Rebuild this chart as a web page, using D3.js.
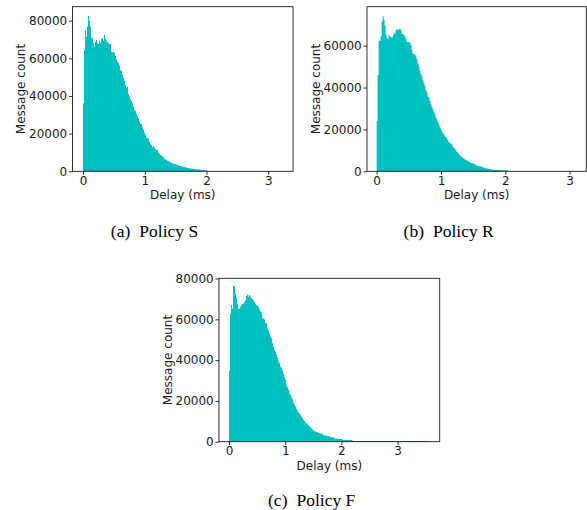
<!DOCTYPE html>
<html>
<head>
<meta charset="utf-8">
<script src="https://cdn.jsdelivr.net/npm/d3@7"></script>
<style>
body { margin: 0; background: #fff; }
</style>
</head>
<body>
<div id="chart"></div>
<script>
// Histogram bin counts, first bin starts at 0 ms
var countsS = [
	36100, 64400, 75000, 71500, 76800, 82500, 80000, 76800, 71200, 70700,
	68000, 66200, 68800, 69700, 68000, 67600, 69300, 68000, 70100, 70700,
	69500, 72400, 70700, 69500, 68500, 68000, 67600, 67600, 63500, 63200,
	63400, 62800, 61200, 59500, 58300, 57400, 56000, 53800, 53400, 51200,
	49500, 48100, 45800, 44400, 44900, 41000, 39700, 38200, 37300, 36100,
	34300, 32600, 32000, 30400, 29300, 28200, 26300, 25200, 25000, 23200,
	22000, 20500, 19300, 18100, 17500, 17500, 15700, 14500, 14000, 12700,
	13500, 12700, 11700, 11300, 11300,
	9900, 9200, 8700, 8100, 7800, 7400, 6700, 6400, 6000, 5600,
	5300, 5100, 4800, 4600, 4200, 4200, 3900, 3900, 3500, 3400,
	3200, 2800, 2800, 2700, 2500, 2500, 2400, 2100, 2000, 1800,
	1800, 1600, 1500, 1500, 1400, 1300, 1200, 1200, 1000, 1000,
	950, 900, 850, 800, 750, 700, 650, 600, 550
];
var countsR = [
	23950, 46000, 62300, 62300, 64400, 71500, 74000, 72400, 69500, 65100,
	63700, 63000, 65100, 64400, 64100, 63700, 64700, 66300, 65600, 67300,
	67900, 67500, 67900, 68200, 67300, 65700, 65600, 65100, 64400, 63000,
	61800, 61800, 61500, 61500, 60200, 58000, 56100, 56000, 55600, 54800,
	53500, 51600, 50000, 47900, 46500, 45200, 43600, 42000, 40700, 38800,
	37600, 35600, 35300, 33700, 32100, 30800, 29700, 28400, 27300, 25700,
	24700, 23600, 22500, 21200, 20400, 19300, 18300, 17700, 16700, 16400,
	15600, 14800, 14000, 13500, 13200,
	12800, 11700, 11300, 10800, 10000, 9300, 8800, 8100, 7700, 7200,
	6900, 6400, 6100, 5600, 5300, 5300, 4950, 4600, 4500, 4000,
	4000, 3700, 3700, 3300, 3300, 2800, 2500, 2400, 2400, 2400,
	2100, 1800, 1800, 1600, 1400, 1300, 1300, 1100, 1100, 1000,
	1000, 800, 800, 800, 650, 650, 650, 650, 650, 650,
	500, 500, 500, 500, 500, 480, 450
];
var countsF = [
	34800, 62900, 67000, 65300, 76300, 76300, 72700, 70300, 67500, 65300,
	65000, 66100, 67000, 67500, 67800, 68600, 69400, 71400, 72200, 71100,
	71900, 70800, 70300, 69800, 69200, 68200, 67500, 67000, 66500, 66100,
	64800, 63700, 63200, 60700, 60400, 59900, 58300, 57900, 55500, 54400,
	53000, 51700, 50600, 48200, 46600, 44900, 44100, 42500, 41300, 39200,
	38400, 36800, 36000, 34600, 33200, 31500, 30200, 27600, 26600, 25300,
	23600, 22800, 21700, 20700, 19100, 17900, 17100, 16000, 15100, 14100,
	13800, 13000, 12200, 11400, 10500, 10200, 9200, 8900, 8400, 8100,
	7300, 6900, 6400, 5900, 5600, 5300, 4800, 4800, 4500, 4300,
	4000, 4000, 4000, 3600, 3100, 3100, 3100, 2800, 2800, 2800,
	2300, 2300, 2300, 2000, 2000, 1600, 1600, 1600, 1600, 1300,
	1300, 1300, 1300, 1000, 800, 800, 800, 800, 800, 800,
	800, 800, 800
];
// bin width (ms) of each histogram
var binS = 0.0162, binR = 0.0155, binF = 0.01785;
// sparse tail after the listed bins: last delay (ms) and count per bin
var tailEndS = 3.24, tailCountS = 60;
var tailEndR = 3.10, tailCountR = 60;
var tailEndF = 3.57, tailCountF = 350;

var xTicks = [0, 1, 2, 3];
var yTicksS = [0, 20000, 40000, 60000, 80000];
var yTicksR = [0, 20000, 40000, 60000];
var yTicksF = [0, 20000, 40000, 60000, 80000];

var xLabel = 'Delay (ms)';
var yLabel = 'Message count';
var captionTags = ['(a)', '(b)', '(c)'];
var captionNames = ['Policy S', 'Policy R', 'Policy F'];

var width = 587, height = 510;
var barColor = '#00bfbf';
var inkColor = '#1a1a1a';

var svg = d3.select('#chart')
	.append('svg')
	.attr('width', width)
	.attr('height', height);

var panels = [
	{counts: countsS, bin: binS, tailEnd: tailEndS, tailCount: tailCountS, yTicks: yTicksS,
	 left: 72.5, right: 293, top: 6.7, bottom: 171.3, xDomain: [-0.17, 3.40], yMax: 87400,
	 capX: 154.5, capY: 236.5},
	{counts: countsR, bin: binR, tailEnd: tailEndR, tailCount: tailCountR, yTicks: yTicksR,
	 left: 367, right: 586.3, top: 6.7, bottom: 171.3, xDomain: [-0.15, 3.26], yMax: 78600,
	 capX: 448.7, capY: 236.5},
	{counts: countsF, bin: binF, tailEnd: tailEndF, tailCount: tailCountF, yTicks: yTicksF,
	 left: 219, right: 439.7, top: 278.3, bottom: 441.7, xDomain: [-0.178, 3.749], yMax: 80100,
	 capX: 311.7, capY: 505.5}
];

panels.forEach(function(p, i){
	draw_panel(p, i);
});

function draw_panel(p, i){
	var g = svg.append('g');

	var x = d3.scaleLinear().domain(p.xDomain).range([p.left, p.right]);
	var y = d3.scaleLinear().domain([0, p.yMax]).range([p.bottom, p.top]);

	// step outline of the histogram
	var pts = p.counts.map(function(c, k){ return [k * p.bin, c]; });
	pts.push([p.counts.length * p.bin, p.tailCount]);
	pts.push([p.tailEnd, 0]);

	var area = d3.area()
		.curve(d3.curveStepAfter)
		.x(function(d){ return x(d[0]); })
		.y0(y(0))
		.y1(function(d){ return y(d[1]); });

	g.append('path')
		.datum(pts)
		.attr('d', area)
		.attr('fill', barColor);

	// axes
	var xAxis = g.append('g')
		.attr('transform', 'translate(0,' + p.bottom + ')')
		.call(d3.axisBottom(x).tickValues(xTicks).tickFormat(d3.format('d'))
			.tickSize(3.5).tickPadding(1.5));
	var yAxis = g.append('g')
		.attr('transform', 'translate(' + p.left + ',0)')
		.call(d3.axisLeft(y).tickValues(p.yTicks).tickFormat(d3.format('d'))
			.tickSize(3.5).tickPadding(1.8));

	[xAxis, yAxis].forEach(function(a){
		a.select('.domain').remove();
		a.selectAll('line').attr('stroke', inkColor).attr('stroke-width', 0.9);
		a.selectAll('text')
			.attr('fill', inkColor)
			.style('font-family', 'DejaVu Sans')
			.style('font-size', '12px');
	});

	// frame
	g.append('rect')
		.attr('x', p.left)
		.attr('y', p.top)
		.attr('width', p.right - p.left)
		.attr('height', p.bottom - p.top)
		.attr('fill', 'none')
		.attr('stroke', inkColor)
		.attr('stroke-width', 0.9);

	g.append('text')
		.attr('x', (p.left + p.right) / 2)
		.attr('y', p.bottom + 28)
		.attr('text-anchor', 'middle')
		.attr('fill', inkColor)
		.style('font-family', 'DejaVu Sans')
		.style('font-size', '12px')
		.text(xLabel);

	g.append('text')
		.attr('transform', 'translate(' + (p.left - 47.5) + ',' + ((p.top + p.bottom) / 2) + ') rotate(-90)')
		.attr('text-anchor', 'middle')
		.attr('fill', inkColor)
		.style('font-family', 'DejaVu Sans')
		.style('font-size', '12px')
		.text(yLabel);

	// caption under the subfigure
	var cap = g.append('text')
		.attr('x', p.capX)
		.attr('y', p.capY)
		.attr('text-anchor', 'middle')
		.attr('fill', '#000')
		.style('font-family', 'Liberation Serif')
		.style('font-size', '17.5px');
	cap.append('tspan').text(captionTags[i]);
	cap.append('tspan').attr('dx', 9).text(captionNames[i]);
}
</script>
</body>
</html>
